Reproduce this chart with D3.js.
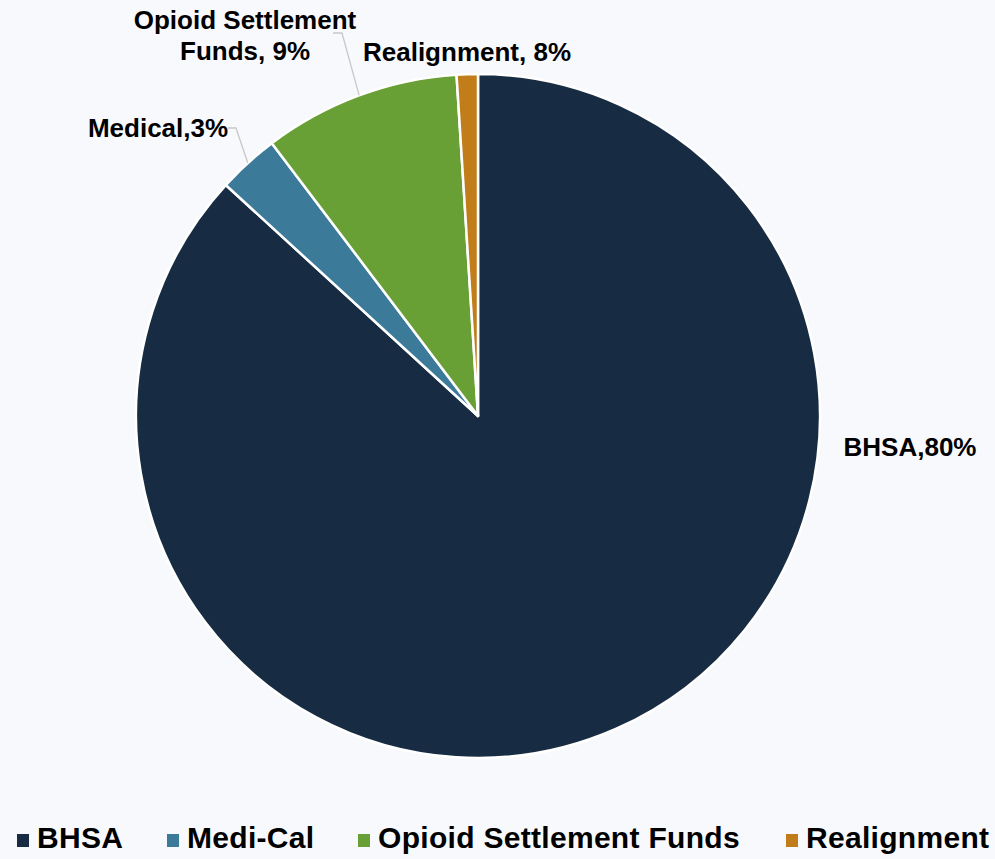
<!DOCTYPE html>
<html><head><meta charset="utf-8">
<script src="https://cdn.jsdelivr.net/npm/d3@7"></script>
<style>
html,body{margin:0;padding:0;background:#f8f9fc;}
svg{display:block;}
text{font-family:"Liberation Sans",Arial,sans-serif;font-weight:bold;fill:#000;}
</style></head>
<body>
<svg id="chart" width="995" height="859"></svg>
<script>
// Data
const categories = ["BHSA", "Medi-Cal", "Opioid Settlement Funds", "Realignment"];
const values = [86.8, 2.9, 9.3, 1.0];
const labelLines = [["BHSA,80%"], ["Medical,3%"], ["Opioid Settlement", "Funds, 9%"], ["Realignment, 8%"]];
const colors = ["#172c42", "#3c7a9a", "#69a035", "#c17d1a"];

const W = 995, H = 859;
const cx = 478, cy = 416, R = 342;
const svg = d3.select("#chart");
svg.append("rect").attr("width", W).attr("height", H).attr("fill", "#f8f9fc");

const data = categories.map((c, i) => ({cat: c, value: values[i], lines: labelLines[i], color: colors[i]}));
const pie = d3.pie().sort(null).value(d => d.value);
const arcs = pie(data);
const arc = d3.arc().innerRadius(0).outerRadius(R);

const g = svg.append("g").attr("transform", `translate(${cx},${cy})`);
g.selectAll("path").data(arcs).join("path")
  .attr("d", arc)
  .attr("fill", d => d.data.color)
  .attr("stroke", "#ffffff")
  .attr("stroke-width", 2.5)
  .attr("stroke-linejoin", "round");

// label layout relative to pie center, with leader elbows
const labelPos = [
  {x: 432, y: 40, anchor: "middle", leader: false},
  {x: -320, y: -279, anchor: "middle", leader: true, elbow: [[-250, -288], [-242, -288]]},
  {x: -233, y: -387, anchor: "middle", leader: true, elbow: [[-145, -383], [-136, -383]]},
  {x: -11, y: -355, anchor: "middle", leader: false}
];
const fontSize = 26;
arcs.forEach((a, i) => {
  const p = labelPos[i];
  const mid = (a.startAngle + a.endAngle) / 2;
  const edge = [R * Math.sin(mid), -R * Math.cos(mid)];
  if (p.leader) {
    g.append("polyline")
      .attr("points", [p.elbow[0], p.elbow[1], edge].map(q => q.join(",")).join(" "))
      .attr("fill", "none").attr("stroke", "#c8c8c8").attr("stroke-width", 1.3);
  }
  const t = g.append("text")
    .attr("x", p.x).attr("y", p.y)
    .attr("text-anchor", p.anchor)
    .attr("font-size", fontSize);
  a.data.lines.forEach((ln, j) => {
    t.append("tspan").attr("x", p.x).attr("dy", j === 0 ? 0 : 31).text(ln);
  });
});

// Legend
const legendX = [17, 167, 358, 786];
const lg = svg.append("g");
data.forEach((d, i) => {
  lg.append("rect").attr("x", legendX[i]).attr("y", 834).attr("width", 12).attr("height", 13).attr("fill", d.color);
  lg.append("text").attr("x", legendX[i] + 20).attr("y", 848).attr("font-size", 30)
    .attr("letter-spacing", 0.3).text(d.cat);
});
</script>
</body></html>
